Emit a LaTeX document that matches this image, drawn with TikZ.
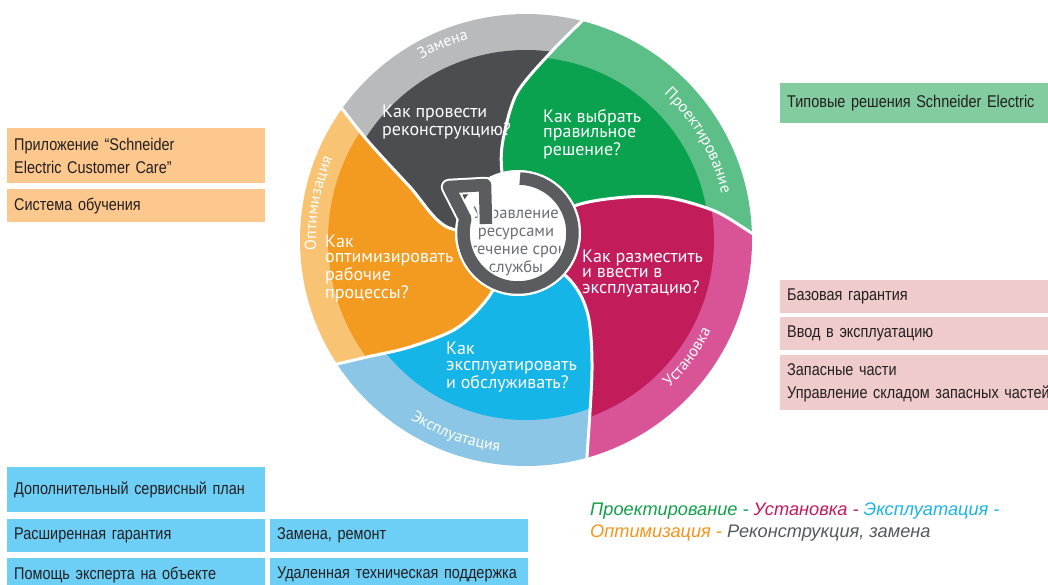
\documentclass[tikz,border=0pt]{standalone}
\usepackage{fontspec}
\setmainfont{PT Sans}
\newfontfamily\boxfont[FakeStretch=0.85]{Liberation Sans}
\newfontfamily\legfont{Liberation Sans}
\usetikzlibrary{calc,decorations.text}
\definecolor{grayL}{HTML}{B8BABC}
\definecolor{grayD}{HTML}{4B4D51}
\definecolor{greenL}{HTML}{5CBF88}
\definecolor{greenD}{HTML}{0AA24F}
\definecolor{pinkL}{HTML}{D85497}
\definecolor{pinkD}{HTML}{C31C5B}
\definecolor{blueL}{HTML}{8BC6E6}
\definecolor{blueD}{HTML}{16B5E8}
\definecolor{orangeL}{HTML}{F8C373}
\definecolor{orangeD}{HTML}{F39B20}
\definecolor{ringC}{HTML}{5B5C5F}
\definecolor{ctextC}{HTML}{6D6E71}
\definecolor{boxO}{HTML}{FCC88E}
\definecolor{boxG}{HTML}{82CCA0}
\definecolor{boxP}{HTML}{EFCBCB}
\definecolor{boxB}{HTML}{6ECFF6}
\definecolor{boxT}{HTML}{231F20}
\definecolor{legG}{HTML}{14A04B}
\definecolor{legP}{HTML}{C3195D}
\definecolor{legB}{HTML}{1BB4E9}
\definecolor{legO}{HTML}{F7941D}
\definecolor{legK}{HTML}{58595B}
\newcommand\rlab{\fontsize{16}{16}\selectfont\color{white}}
\begin{document}
\begin{tikzpicture}[x=1pt,y=1pt,
  qtext/.style={text=white,font=\fontsize{18}{15.5}\selectfont,align=left,inner sep=0pt,anchor=base west},
  sepline/.style={draw=white,line width=3pt},
  box/.style={anchor=north west,inner xsep=7pt,inner ysep=0pt,align=left,text=boxT,font=\boxfont\fontsize{17}{23}\selectfont},
  ctext/.style={text=ctextC,font=\fontsize{16.5}{17.7}\selectfont,align=center,inner sep=0pt,anchor=base},
  leg/.style={anchor=base west,align=left,inner sep=0pt,font=\legfont\itshape\fontsize{18.2}{21.5}\selectfont}
]
\useasboundingbox[fill=white] (0,0) rectangle (1048,-584);
\coordinate (C) at (526,-240);
\coordinate (Cc) at (518,-233);

% ---- gray segment (Замена)
\begin{scope}
\clip plot[smooth] coordinates {(512,-238) (447,-227) (410,-187) (367,-140) (333,-97) (310,-68)}
  -- ($(C)+(142:400)$) -- ($(C)+(107:400)$) -- ($(C)+(72:400)$)
  -- plot[smooth] coordinates {(605,5) (590,-13) (553,-50) (517,-93) (503,-140) (502,-173) (512,-230)} -- cycle;
\fill[grayL] (C) circle[radius=226];
\fill[grayD] (C) circle[radius=190];
\end{scope}
% ---- green segment
\begin{scope}
\clip plot[smooth] coordinates {(512,-230) (502,-173) (503,-140) (517,-93) (553,-50) (590,-13) (605,5)}
  -- ($(C)+(72:400)$) -- ($(C)+(35:400)$) -- ($(C)+(-2:400)$)
  -- plot[smooth] coordinates {(790,-250) (760,-238) (717,-212) (670,-198) (627,-197) (577,-205) (520,-232)} -- cycle;
\fill[greenL] (C) circle[radius=226];
\fill[greenD] (C) circle[radius=183];
\end{scope}
% ---- pink segment
\begin{scope}
\clip plot[smooth] coordinates {(520,-232) (577,-205) (627,-197) (670,-198) (717,-212) (760,-238) (790,-250)}
  -- ($(C)+(-2:400)$) -- ($(C)+(-40:400)$) -- ($(C)+(-77:400)$)
  -- plot[smooth] coordinates {(585,-490) (587,-457) (592,-370) (588,-315) (570,-280) (520,-240)} -- cycle;
\fill[pinkL] (C) circle[radius=226];
\fill[pinkD] (C) circle[radius=188];
\end{scope}
% ---- blue segment
\begin{scope}
\clip plot[smooth] coordinates {(520,-240) (570,-280) (588,-315) (592,-370) (587,-457) (585,-490)}
  -- ($(C)+(-77:400)$) -- ($(C)+(-113:400)$) -- ($(C)+(-150:400)$)
  -- plot[smooth] coordinates {(290,-375) (320,-368) (367,-357) (410,-347) (457,-328) (490,-295) (515,-242)} -- cycle;
\fill[blueL] (C) circle[radius=226];
\fill[blueD] (C) circle[radius=180];
\end{scope}
% ---- orange segment
\begin{scope}
\clip plot[smooth] coordinates {(515,-242) (490,-295) (457,-328) (410,-347) (367,-357) (320,-368) (290,-375)}
  -- ($(C)+(210:400)$) -- ($(C)+(176:400)$) -- ($(C)+(142:400)$)
  -- plot[smooth] coordinates {(310,-68) (333,-97) (367,-140) (410,-187) (447,-227) (512,-238)} -- cycle;
\fill[orangeL] (C) circle[radius=226];
\fill[orangeD] (C) circle[radius=198];
\end{scope}

% ---- questions (anchor = baseline of last line)
\node[qtext] (q1) at (382,-135) {Как провести\\реконструкцию?};
\node[qtext] (q2) at (543,-155) {Как выбрать\\правильное\\решение?};
\node[qtext] (q3) at (582,-293) {Как разместить\\и ввести в\\эксплуатацию?};
\node[qtext] (q4) at (446,-388) {Как\\эксплуатировать\\и обслуживать?};
\node[qtext] (q5) at (325,-298) {Как\\оптимизировать\\рабочие\\процессы?};

% ---- separators
\begin{scope}
\clip (C) circle[radius=226];
\draw[sepline] plot[smooth] coordinates {(512,-230) (502,-173) (503,-140) (517,-93) (553,-50) (590,-13) (605,5)};
\draw[sepline] plot[smooth] coordinates {(520,-232) (577,-205) (627,-197) (670,-198) (717,-212) (760,-238) (790,-250)};
\draw[sepline] plot[smooth] coordinates {(520,-240) (570,-280) (588,-315) (592,-370) (587,-457) (585,-490)};
\draw[sepline] plot[smooth] coordinates {(515,-242) (490,-295) (457,-328) (410,-347) (367,-357) (320,-368) (290,-375)};
\draw[sepline] plot[smooth] coordinates {(512,-238) (447,-227) (410,-187) (367,-140) (333,-97) (310,-68)};
\end{scope}

% ---- ring labels
\path[decorate,decoration={text along path,text align=center,text={|\rlab|Замена}}]
  ($(C)+(133:209)$) arc[start angle=133,end angle=93,radius=209];
\path[decorate,decoration={text along path,text align=center,text={|\rlab|Проектирование}}]
  ($(C)+(62:201)$) arc[start angle=62,end angle=-2,radius=201];
\path[decorate,decoration={text along path,text align=center,text={|\rlab|Установка}}]
  ($(C)+(-66:206)$) arc[start angle=-66,end angle=-6,radius=206];
\path[decorate,decoration={text along path,text align=center,text={|\rlab|Эксплуатация}}]
  ($(C)+(-140:213)$) arc[start angle=-140,end angle=-80,radius=213];
\path[decorate,decoration={text along path,text align=center,text={|\rlab|Оптимизация}}]
  ($(C)+(200:210)$) arc[start angle=200,end angle=140,radius=210];

% ---- centre
\fill[white] (Cc) circle[radius=63];
\node[ctext] (centre) at (516,-272) {Управление\\ресурсами\\в течение срока\\службы};
\draw[white,line width=16.5pt,line join=round]
  ($(Cc)+(88:54.5)$) arc[start angle=88,end angle=-195,radius=54.5] -- (449,-187) -- (485,-185) -- (486,-224);
\draw[ringC,line width=12.5pt,line join=round]
  ($(Cc)+(88:54.5)$) arc[start angle=88,end angle=-195,radius=54.5] -- (449,-187) -- (485,-185) -- (486,-224);

% ---- boxes
\node[box,fill=boxO,minimum height=55pt,text width=244pt] (o1) at (7,-128) {Приложение “Schneider\\Electric Customer Care”};
\node[box,fill=boxO,minimum height=33pt,text width=244pt] (o2) at (7,-189) {Система обучения};
\node[box,fill=boxG,minimum height=40pt,text width=270pt] (g1) at (780,-83) {Типовые решения Schneider Electric};
\node[box,fill=boxP,minimum height=33pt,text width=270pt] (p1) at (780,-280) {Базовая гарантия};
\node[box,fill=boxP,minimum height=33pt,text width=270pt] (p2) at (780,-317) {Ввод в эксплуатацию};
\node[box,fill=boxP,minimum height=55pt,text width=270pt] (p3) at (780,-355) {Запасные части\\Управление складом запасных частей};
\node[box,fill=boxB,minimum height=45pt,text width=244pt] (b1) at (7,-467) {Дополнительный сервисный план};
\node[box,fill=boxB,minimum height=33pt,text width=244pt] (b2) at (7,-519) {Расширенная гарантия};
\node[box,fill=boxB,minimum height=33pt,text width=244pt] (b3) at (7,-558) {Помощь эксперта на объекте};
\node[box,fill=boxB,minimum height=33pt,text width=244pt] (b4) at (270,-519) {Замена, ремонт};
\node[box,fill=boxB,minimum height=33pt,text width=244pt] (b5) at (270,-558) {Удаленная техническая поддержка};

% ---- legend (anchor = baseline of last line)
\node[leg] (legend) at (590,-537) {{\color{legG}Проектирование -} {\color{legP}Установка -} {\color{legB}Эксплуатация -}\\{\color{legO}Оптимизация -} {\color{legK}Реконструкция, замена}};
\end{tikzpicture}
\end{document}
